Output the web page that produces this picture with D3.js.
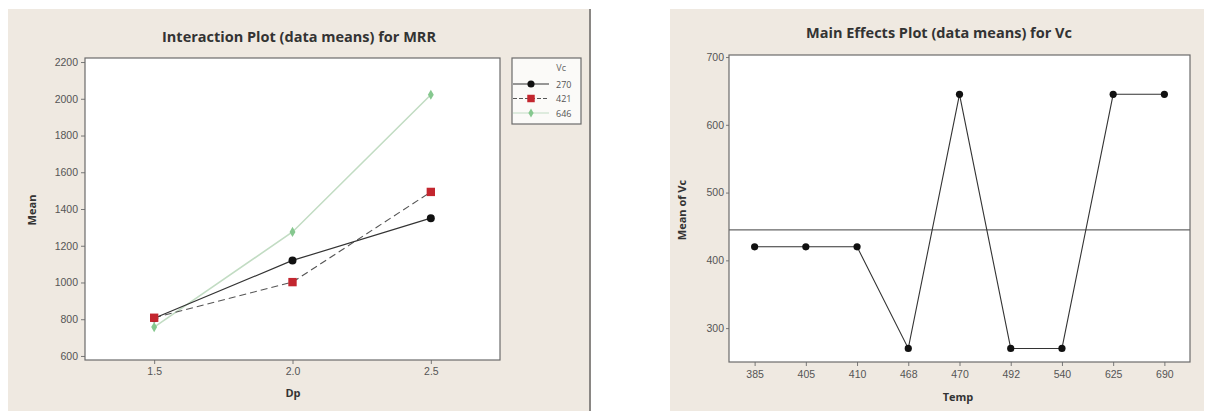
<!DOCTYPE html>
<html><head><meta charset="utf-8">
<script src="https://cdn.jsdelivr.net/npm/d3@7"></script>
<style>
html,body{margin:0;padding:0;background:#fff;}
svg{display:block;font-family:"Open Sans","DejaVu Sans",sans-serif;}
</style></head>
<body>
<svg id="c" width="1213" height="411"></svg>
<script>
// ---- Data: Interaction plot ----
const dpLevels = [1.5, 2.0, 2.5];
const vcLevels = ["270", "421", "646"];
const mrr270 = [805, 1120, 1350];
const mrr421 = [808, 1002, 1493];
const mrr646 = [757, 1275, 2022];
const leftYTicks = [600, 800, 1000, 1200, 1400, 1600, 1800, 2000, 2200];
const leftXTicks = ["1.5", "2.0", "2.5"];

// ---- Data: Main effects plot ----
const tempLevels = ["385", "405", "410", "468", "470", "492", "540", "625", "690"];
const vcMeans = [420, 420, 420, 270, 645, 270, 270, 645, 645];
const rightYTicks = [300, 400, 500, 600, 700];

const svg = d3.select("#c");
const bg = "#efe9e1";

// panels background
svg.append("rect").attr("x", 8).attr("y", 9).attr("width", 581).attr("height", 402).attr("fill", bg);
svg.append("line").attr("x1", 590).attr("x2", 590).attr("y1", 9).attr("y2", 411).attr("stroke", "#8a8784").attr("stroke-width", 2);
svg.append("rect").attr("x", 670).attr("y", 9).attr("width", 534).attr("height", 402).attr("fill", bg);

// ========== LEFT: Interaction plot ==========
const L = {l: 85, r: 500, t: 58, b: 360};
svg.append("rect").attr("x", L.l).attr("y", L.t).attr("width", L.r - L.l).attr("height", L.b - L.t).attr("fill", "#fff");
const xL = d3.scaleLinear().domain([1.25, 2.75]).range([L.l, L.r]);
const yL = d3.scaleLinear().domain([578, 2222]).range([L.b, L.t]);

const axL = svg.append("g").attr("transform", `translate(${L.l},0)`)
  .call(d3.axisLeft(yL).tickValues(leftYTicks).tickFormat(d3.format("d")).tickSize(4).tickPadding(3));
const axLx = svg.append("g").attr("transform", `translate(0,${L.b})`)
  .call(d3.axisBottom(xL).tickValues(dpLevels).tickFormat((d, i) => leftXTicks[i]).tickSize(4).tickPadding(4));
[axL, axLx].forEach(g => {
  g.select(".domain").remove();
  g.selectAll("line").attr("stroke", "#777");
  g.selectAll("text").attr("fill", "#555").style("font-size", "10.5px");
});
svg.append("rect").attr("x", L.l).attr("y", L.t).attr("width", L.r - L.l).attr("height", L.b - L.t)
  .attr("fill", "none").attr("stroke", "#6b6b6b").attr("stroke-width", 1.2);

const seriesL = [
  {name: vcLevels[0], vals: mrr270, color: "#111", dash: null, lineColor: "#333", sym: d3.symbolCircle, size: 50, width: 1.2},
  {name: vcLevels[1], vals: mrr421, color: "#c3262f", dash: "7,4", lineColor: "#555", sym: d3.symbolSquare, size: 70, width: 1.1},
  {name: vcLevels[2], vals: mrr646, color: "#86c88f", dash: null, lineColor: "#c2dcc3", sym: d3.symbolDiamond, size: 30, width: 1.6}
];
const lineL = d3.line().x((d, i) => xL(dpLevels[i])).y(d => yL(d));
// draw green first (underneath), then red, then black
[2, 1, 0].forEach(k => {
  const s = seriesL[k];
  svg.append("path").attr("d", lineL(s.vals)).attr("fill", "none")
    .attr("stroke", s.lineColor).attr("stroke-width", s.width).attr("stroke-dasharray", s.dash);
});
[2, 0, 1].forEach(k => {
  const s = seriesL[k];
  svg.selectAll(null).data(s.vals).enter().append("path")
    .attr("d", d3.symbol().type(s.sym).size(s.size))
    .attr("transform", (d, i) => `translate(${xL(dpLevels[i])},${yL(d)})`)
    .attr("fill", s.color);
});

// legend
const lg = svg.append("g");
lg.append("rect").attr("x", 512).attr("y", 58).attr("width", 69).attr("height", 66)
  .attr("fill", "#fbfaf8").attr("stroke", "#6b6b6b").attr("stroke-width", 1.2);
lg.append("text").attr("x", 566).attr("y", 71).attr("text-anchor", "end").attr("fill", "#666")
  .style("font-size", "9px").text("Vc");
seriesL.forEach((s, i) => {
  const yy = 84 + i * 14.5;
  lg.append("line").attr("x1", 513).attr("x2", 549).attr("y1", yy).attr("y2", yy)
    .attr("stroke", s.lineColor).attr("stroke-width", 1.1).attr("stroke-dasharray", s.dash ? "4,2" : null);
  lg.append("path").attr("d", d3.symbol().type(s.sym).size(s.size * 0.8)).attr("transform", `translate(531,${yy})`).attr("fill", s.color);
  lg.append("text").attr("x", 556).attr("y", yy + 3.5).attr("fill", "#555").style("font-size", "9px").text(s.name);
});

// titles and labels
svg.append("text").attr("x", 299).attr("y", 42).attr("text-anchor", "middle").attr("fill", "#333")
  .style("font-size", "14.5px").style("font-weight", "bold").text("Interaction Plot (data means) for MRR");
svg.append("text").attr("x", 293).attr("y", 397).attr("text-anchor", "middle").attr("fill", "#333")
  .style("font-size", "11px").style("font-weight", "bold").text("Dp");
svg.append("text").attr("transform", "translate(36,210) rotate(-90)").attr("text-anchor", "middle").attr("fill", "#333")
  .style("font-size", "11px").style("font-weight", "bold").text("Mean");

// ========== RIGHT: Main effects plot ==========
const R = {l: 729, r: 1190, t: 55, b: 362};
svg.append("rect").attr("x", R.l).attr("y", R.t).attr("width", R.r - R.l).attr("height", R.b - R.t).attr("fill", "#fff");
const xR = d3.scalePoint().domain(tempLevels).range([R.l, R.r]).padding(0.5);
const yR = d3.scaleLinear().domain([250, 703]).range([R.b, R.t]);

const axR = svg.append("g").attr("transform", `translate(${R.l},0)`)
  .call(d3.axisLeft(yR).tickValues(rightYTicks).tickSize(3).tickPadding(2));
const axRx = svg.append("g").attr("transform", `translate(0,${R.b})`)
  .call(d3.axisBottom(xR).tickSize(4).tickPadding(5));
[axR, axRx].forEach(g => {
  g.select(".domain").remove();
  g.selectAll("line").attr("stroke", "#777");
  g.selectAll("text").attr("fill", "#555").style("font-size", "10.5px");
});
svg.append("rect").attr("x", R.l).attr("y", R.t).attr("width", R.r - R.l).attr("height", R.b - R.t)
  .attr("fill", "none").attr("stroke", "#6b6b6b").attr("stroke-width", 1.2);

const grandMean = d3.mean(vcMeans);
svg.append("line").attr("x1", R.l).attr("x2", R.r).attr("y1", yR(grandMean)).attr("y2", yR(grandMean))
  .attr("stroke", "#666").attr("stroke-width", 1.1);

const lineR = d3.line().x((d, i) => xR(tempLevels[i])).y(d => yR(d));
svg.append("path").attr("d", lineR(vcMeans)).attr("fill", "none").attr("stroke", "#333").attr("stroke-width", 1.1);
svg.selectAll(null).data(vcMeans).enter().append("circle")
  .attr("cx", (d, i) => xR(tempLevels[i])).attr("cy", d => yR(d)).attr("r", 3.6).attr("fill", "#111");

svg.append("text").attr("x", 939).attr("y", 38).attr("text-anchor", "middle").attr("fill", "#333")
  .style("font-size", "14.5px").style("font-weight", "bold").text("Main Effects Plot (data means) for Vc");
svg.append("text").attr("x", 958).attr("y", 401).attr("text-anchor", "middle").attr("fill", "#333")
  .style("font-size", "11px").style("font-weight", "bold").text("Temp");
svg.append("text").attr("transform", "translate(686,210) rotate(-90)").attr("text-anchor", "middle").attr("fill", "#333")
  .style("font-size", "11px").style("font-weight", "bold").text("Mean of Vc");
</script>
</body></html>
